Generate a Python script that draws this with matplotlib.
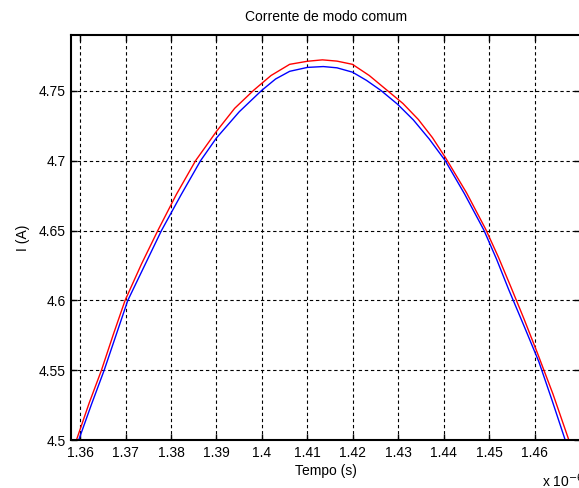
import matplotlib
matplotlib.use("Agg")
import matplotlib.pyplot as plt
from matplotlib.ticker import FormatStrFormatter

plt.rcParams["font.family"] = ["Liberation Sans", "DejaVu Sans"]

# Time in units of 1e-6 s, current in A
t_red = [1.3592, 1.3620, 1.3647, 1.3673, 1.3699, 1.3735, 1.3771, 1.3812,
         1.3854, 1.3900, 1.3940, 1.3982, 1.4020, 1.4061, 1.4100, 1.4133,
         1.4165, 1.4199, 1.4236, 1.4273, 1.4310, 1.4344, 1.4375, 1.4404,
         1.4450, 1.4492, 1.4520, 1.4547, 1.4576, 1.4605, 1.4640, 1.4675]
i_red = [4.500, 4.5265, 4.550, 4.5755, 4.600, 4.6260, 4.650, 4.6760,
         4.700, 4.7210, 4.7375, 4.7505, 4.7610, 4.7690, 4.7712, 4.7722,
         4.7713, 4.7690, 4.7610, 4.7510, 4.7410, 4.7295, 4.7165, 4.7020,
         4.6770, 4.6510, 4.6310, 4.6100, 4.5870, 4.5630, 4.5330, 4.500]

t_blue = [1.3597, 1.3625, 1.3653, 1.3679, 1.3705, 1.3742, 1.3779, 1.3822,
          1.3865, 1.3900, 1.3950, 1.3999, 1.4030, 1.4061, 1.4100, 1.4135,
          1.4165, 1.4199, 1.4230, 1.4262, 1.4298, 1.4333, 1.4368, 1.4403,
          1.4446, 1.4488, 1.4516, 1.4543, 1.4576, 1.4609, 1.4638, 1.4667]
i_blue = [4.500, 4.5255, 4.550, 4.5750, 4.600, 4.6250, 4.650, 4.6755,
          4.700, 4.7163, 4.7350, 4.7502, 4.7585, 4.7640, 4.7668, 4.7674,
          4.7665, 4.7634, 4.7575, 4.7502, 4.7405, 4.7292, 4.7155, 4.7001,
          4.6760, 4.6504, 4.6295, 4.6075, 4.5820, 4.5561, 4.5285, 4.500]

x_ticks = [1.36, 1.37, 1.38, 1.39, 1.40, 1.41, 1.42, 1.43, 1.44, 1.45, 1.46]
y_ticks = [4.5, 4.55, 4.6, 4.65, 4.7, 4.75]

fig = plt.figure(figsize=(5.79, 4.88), dpi=100)
ax = fig.add_axes([71 / 579, 48 / 488, 509.2 / 579, 405 / 488])

ax.plot(t_red, i_red, color="red", linewidth=1.0)
ax.plot(t_blue, i_blue, color="blue", linewidth=1.0)

ax.set_xlim(1.358, 1.47)
ax.set_ylim(4.5, 4.79)
ax.set_xticks(x_ticks)
ax.set_yticks(y_ticks)
ax.xaxis.set_major_formatter(FormatStrFormatter("%g"))
ax.yaxis.set_major_formatter(FormatStrFormatter("%g"))

ax.grid(True, color="black", linestyle=(0, (3, 2.5)), linewidth=0.8)
ax.tick_params(direction="in", length=4, width=1, top=True, right=True,
               labelsize=10, pad=4)
for s in ax.spines.values():
    s.set_linewidth(1.5)

ax.set_title("Corrente de modo comum", fontsize=10, pad=10)
ax.set_xlabel("Tempo (s)", fontsize=10, labelpad=3)
ax.set_ylabel("I (A)", fontsize=10, labelpad=6)
# exponent label, cut at the right edge as in the original
fig.text(542 / 579, 1 - 481 / 488, r"x 10$^{-6}$", fontsize=10,
         ha="left", va="center")

fig.savefig("out.png", dpi=100, facecolor="white")
